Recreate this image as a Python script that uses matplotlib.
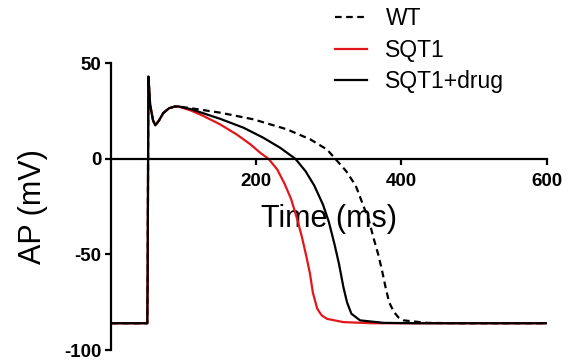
import matplotlib
matplotlib.use("Agg")
import matplotlib.pyplot as plt

plt.rcParams['font.family'] = ['Liberation Sans', 'DejaVu Sans']
plt.rcParams['axes.unicode_minus'] = False

# shared upstroke / early part (ms, mV)
t_early = [0, 50, 50.5, 51.5, 54, 58, 61, 66, 72, 80, 88, 93]
v_early = [-86, -86, -60, 43, 28, 20, 17.6, 20, 24, 26.5, 27.4, 27.4]

# WT
t_wt = [110, 150, 196, 242, 274.5, 297.5, 309, 324, 337, 347, 355, 362, 368,
        373, 378, 383, 389.4, 396, 403, 435, 480, 600]
v_wt = [26.5, 24.2, 20.7, 15.5, 10.2, 4.9, 0, -6.5, -14, -24, -32, -42, -50,
        -58, -67, -75, -80, -83, -84.5, -85.8, -86, -86]

# SQT1
t_sqt1 = [110, 127, 150, 173, 192, 205.5, 217, 229, 239, 248, 256, 263, 269,
          274, 278, 284, 290, 297.5, 320, 360, 600]
v_sqt1 = [25.3, 22.5, 18.1, 12.8, 7.6, 3.2, 0, -5.6, -13, -21, -31, -41, -51,
          -60, -70, -78.4, -81.8, -83.7, -85.4, -86, -86]

# SQT1+drug
t_drug = [110, 150, 182.5, 210, 233, 254, 268, 280, 292, 300, 308, 314, 320,
          325, 331, 343, 375.6, 420, 600]
v_drug = [26, 21, 16.3, 11, 5.8, 0, -6.5, -14, -24, -33, -45, -55, -67,
          -75, -81, -84.5, -85.8, -86, -86]

fig = plt.figure(figsize=(5.79, 3.63), dpi=100)
ax = fig.add_axes([0.1917, 0.0358, 0.7525, 0.7898])

lw = 1.6
ax.plot(t_early + t_wt, v_early + v_wt, color='black', lw=lw, ls=(0, (3, 2)), label='WT')
ax.plot(t_early + t_sqt1, v_early + v_sqt1, color='#e3161b', lw=lw, label='SQT1')
ax.plot(t_early + t_drug, v_early + v_drug, color='black', lw=lw, label='SQT1+drug')

ax.set_xlim(0, 600)
ax.set_ylim(-100, 50)
ax.set_xticks([200, 400, 600])
ax.set_yticks([-100, -50, 0, 50])

ax.spines['top'].set_visible(False)
ax.spines['right'].set_visible(False)
ax.spines['bottom'].set_position(('data', 0))
for s in ('left', 'bottom'):
    ax.spines[s].set_linewidth(1.6)

ax.tick_params(axis='both', width=1.6, length=4, direction='out', labelsize=13.5, pad=3)
ax.tick_params(axis='x', pad=6)
for lab in ax.get_xticklabels() + ax.get_yticklabels():
    lab.set_fontweight('bold')

ax.set_xlabel('Time (ms)', fontsize=22)
ax.xaxis.set_label_coords(0.5, 0.51)
ax.set_ylabel('AP (mV)', fontsize=22)
ax.yaxis.set_label_coords(-0.145, 0.5)

fig.legend(loc='upper left', bbox_to_anchor=(0.543, 1.038), frameon=False,
           fontsize=16.5, handlelength=1.4, handletextpad=0.8, labelspacing=0.38)

fig.savefig('out.png', dpi=100)
